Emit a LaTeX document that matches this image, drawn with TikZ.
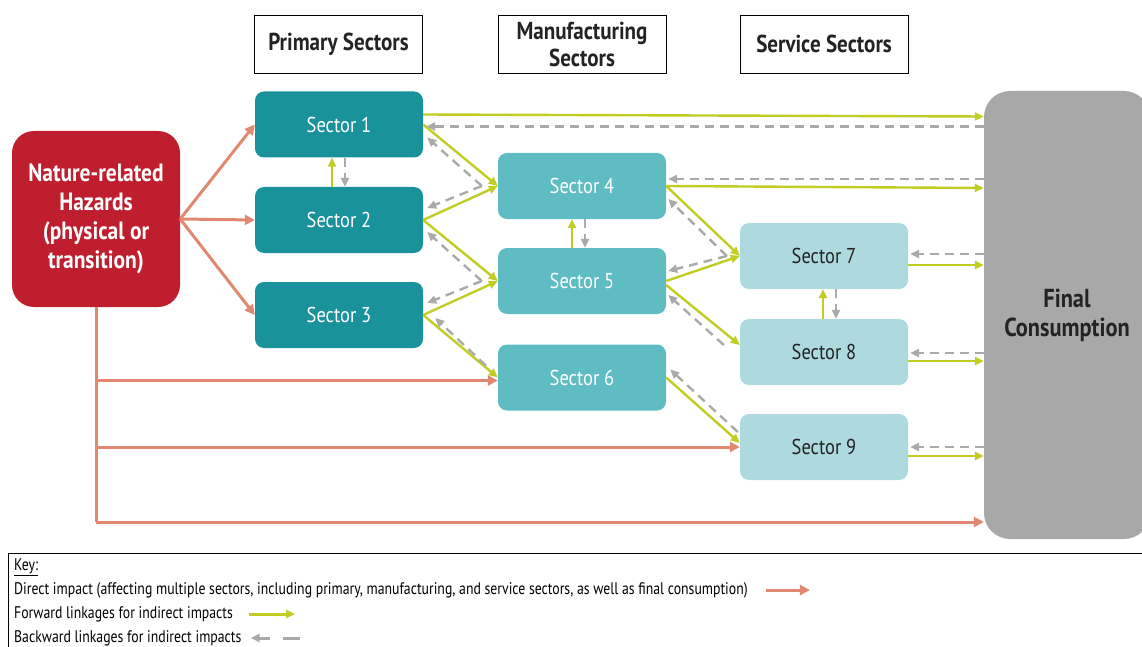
\documentclass[tikz,border=0pt]{standalone}
\usepackage{fontspec}
\setmainfont{PT Sans}[FakeStretch=0.86]
\newfontfamily\keyfont{PT Sans}[FakeStretch=0.82]
\usetikzlibrary{arrows.meta,positioning}

\definecolor{hazardred}{RGB}{190,30,45}
\definecolor{primteal}{RGB}{26,146,156}
\definecolor{manuteal}{RGB}{95,188,194}
\definecolor{servteal}{RGB}{174,217,222}
\definecolor{fcgray}{RGB}{168,168,168}
\definecolor{directc}{RGB}{224,137,112}
\definecolor{fwdc}{RGB}{193,205,35}
\definecolor{bwdc}{RGB}{170,170,170}
\definecolor{darktext}{RGB}{35,35,35}

\begin{document}
\begin{tikzpicture}[
x=1pt, y=-1pt,
    S/.style = {rectangle, rounded corners=9pt,% sector boxes
                minimum width=168pt, minimum height=66pt,
                font=\fontsize{21.5}{24}\selectfont, text=white,
                fill=#1},
    H/.style = {rectangle, draw, fill=white,% column headings
                minimum width=168pt, minimum height=58pt, text=darktext,
                font=\bfseries\fontsize{24.5}{27}\selectfont, align=center},
    K/.style = {anchor=west, inner sep=0pt, font=\keyfont\fontsize{16.8}{18}\selectfont},
  dir/.style = {draw=directc, line width=3pt,
                -{Triangle[length=10pt,width=10pt]}},
  fwd/.style = {draw=fwdc, line width=2.4pt,
                -{Triangle[length=9pt,width=8pt]}},
  bwd/.style = {draw=bwdc, line width=2.4pt, dash pattern=on 9pt off 6pt,
                -{Triangle[length=9pt,width=8pt]}},
                    ]
\clip (0,0) rectangle (1142,647);
% headings
\node[H] (ph) at (338.5,44) {Primary Sectors};
\node[H] (mh) at (582,44) {Manufacturing\\Sectors};
\node[H] (sh) at (824,44) {Service Sectors};
% hazards and final consumption
\node[rectangle, rounded corners=22pt, fill=hazardred, text=white,
      minimum width=168pt, minimum height=176pt, align=center,
      font=\bfseries\fontsize{25}{29}\selectfont] (haz) at (96,219)
      {Nature-related\\Hazards\\(physical or\\transition)};
\node[rectangle, rounded corners=26pt, fill=fcgray, text=darktext,
      minimum width=166pt, minimum height=448pt, align=center,
      font=\bfseries\fontsize{26}{29}\selectfont] (fc) at (1067,315)
      {Final\\Consumption};
% sectors
\foreach \n/\y in {1/124.5,2/220,3/315} \node[S=primteal] (s\n) at (339,\y) {Sector \n};
\foreach \n/\y in {4/186,5/281,6/377.5} \node[S=manuteal] (s\n) at (582,\y) {Sector \n};
\foreach \n/\y in {7/256,8/352,9/447} \node[S=servteal, text=darktext] (s\n) at (824,\y) {Sector \n};

% direct impacts
\coordinate (dend) at (96,522);
\foreach \n in {1,2,3} \draw[dir] (haz.east) -- (s\n.west);
\draw[directc, line width=3pt] (haz.south) -- (dend);
\draw[dir] ([yshift=-3pt]haz.south |- s6.west) -- ([yshift=-3pt]s6.west);
\draw[dir] (haz.south |- s9.west) -- (s9.west);
\draw[dir] (dend) -- (dend -| fc.west);

% forward linkages
\draw[fwd] ([yshift=10pt]s1.east) -- ([yshift=8pt]s1.east -| fc.west);
\draw[fwd] (s1.east) -- (s4.west);
\draw[fwd] (s2.east) -- (s4.west);
\draw[fwd] (s2.east) -- (s5.west);
\draw[fwd] (s3.east) -- (s5.west);
\draw[fwd] (s3.east) -- (s6.west);
\draw[fwd] ([xshift=-7pt]s2.north) -- ([xshift=-7pt]s1.south);
\draw[fwd] ([xshift=-10pt]s5.north) -- ([xshift=-10pt]s4.south);
\draw[fwd] ([xshift=-1pt]s8.north) -- ([xshift=-1pt]s7.south);
\draw[fwd] (s4.east) -- ([yshift=-2pt]s4.east -| fc.west);
\draw[fwd] (s4.east) -- (s7.west);
\draw[fwd] (s5.east) -- (s7.west);
\draw[fwd] ([yshift=-4pt]s5.east) -- ([yshift=7pt]s8.west);
\draw[fwd] (s6.east) -- ([yshift=4pt]s9.west);
\foreach \n in {7,8,9}
  \draw[fwd] ([yshift=-9pt]s\n.east) -- ([yshift=-9pt]s\n.east -| fc.west);

% backward linkages
\draw[bwd] ([yshift=-2pt]s1.east -| fc.west) -- ([xshift=3pt,yshift=-2pt]s1.east);
\draw[bwd] ([xshift=-16pt]s4.west) -- ([xshift=4pt,yshift=-13pt]s1.east);
\draw[bwd] ([xshift=-16pt]s4.west) -- ([xshift=4pt,yshift=12pt]s2.east);
\draw[bwd] ([xshift=-16pt]s5.west) -- ([xshift=4pt,yshift=-12pt]s2.east);
\draw[bwd] ([xshift=-16pt]s5.west) -- ([xshift=4pt,yshift=12pt]s3.east);
\draw[bwd] ([xshift=-12pt,yshift=12pt]s6.west) -- ([xshift=12pt,yshift=-3pt]s3.east);
\draw[bwd] ([xshift=6pt]s1.south) -- ([xshift=6pt]s2.north);
\draw[bwd] ([xshift=3pt]s4.south) -- ([xshift=3pt]s5.north);
\draw[bwd] ([xshift=12pt]s7.south) -- ([xshift=12pt]s8.north);
\draw[bwd] ([yshift=7pt]s4.east -| fc.west) -- ([xshift=2pt,yshift=7pt]s4.east);
\draw[bwd] ([xshift=-13pt]s7.west) -- ([xshift=2pt,yshift=-13pt]s4.east);
\draw[bwd] ([xshift=-13pt]s7.west) -- ([xshift=2pt,yshift=10pt]s5.east);
\draw[bwd] ([xshift=-16pt,yshift=7pt]s8.west) -- ([xshift=2pt,yshift=-14pt]s5.east);
\draw[bwd] ([xshift=-2pt,yshift=15pt]s9.west) -- ([xshift=4pt,yshift=8pt]s6.east);
\foreach \n/\d in {7/2,8/-1,9/0}
  \draw[bwd] ([yshift=\d pt]s\n.east -| fc.west) -- ([xshift=2pt,yshift=\d pt]s\n.east);

% key
\draw[thin] (8,660) -- (8,553) -- (1150,553);
\node[K] (key) at (14,567) {\underline{Key:}};
\node[K] (kd) at (14,590) {Direct impact (affecting multiple sectors, including primary, manufacturing, and service sectors, as well as final consumption)};
\node[K] (kf) at (14,614) {Forward linkages for indirect impacts};
\node[K] (kb) at (14,638) {Backward linkages for indirect impacts};
\draw[dir] ([xshift=18pt]kd.east) -- ++(44,0);
\draw[fwd, line width=3pt] ([xshift=16pt]kf.east) -- ++(46,0);
\draw[bwd, line width=3pt, dash pattern=on 17pt off 13pt] ([xshift=58pt]kb.east) -- ([xshift=9pt]kb.east);
\end{tikzpicture}
\end{document}
